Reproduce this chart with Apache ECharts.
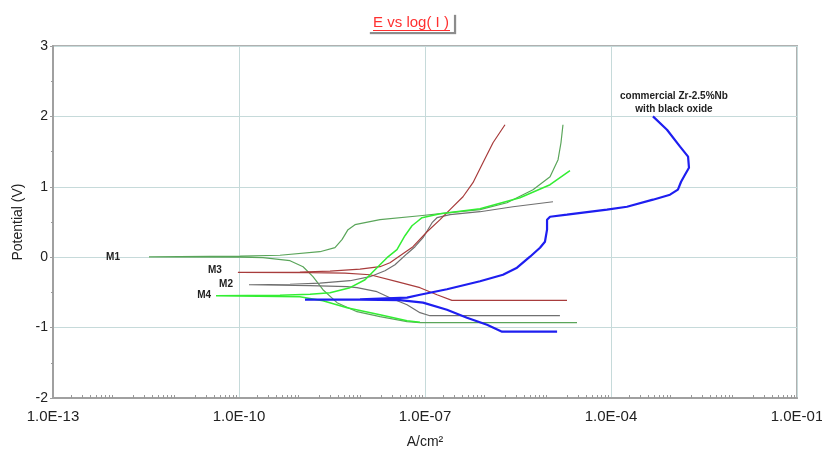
<!DOCTYPE html>
<html><head><meta charset="utf-8">
<script src="https://cdn.jsdelivr.net/npm/echarts@6/dist/echarts.min.js"></script>
<style>html,body{margin:0;padding:0;background:#fff}#c{width:822px;height:449px}</style>
</head><body><div id="c"></div>
<script>
// [current density A/cm2, potential V]
const m1Points = [
  [2.83e-5,-0.93],[8.3e-8,-0.93],[5.13e-8,-0.916],[1.88e-8,-0.845],[8.0e-9,-0.774],[3.81e-9,-0.646],
  [2.26e-9,-0.462],[1.56e-9,-0.277],[1.08e-9,-0.135],[6.65e-10,-0.05],[2.44e-10,-0.007],[1.04e-10,0],
  [3.53e-12,0.005],
  [1.04e-10,0.014],[4.58e-10,0.028],[2.02e-9,0.078],[3.53e-9,0.135],[4.58e-9,0.249],[5.73e-9,0.391],
  [7.43e-9,0.462],[1.88e-8,0.533],[8.3e-8,0.589],[2.53e-7,0.632],[7.71e-7,0.675],[2.1e-6,0.774],
  [5.52e-6,0.959],[1.04e-5,1.143],[1.4e-5,1.385],[1.56e-5,1.626],[1.68e-5,1.882]
];
const m2Points = [
  [1.5e-5,-0.831],[1.2e-7,-0.831],[8.3e-8,-0.788],[5.13e-8,-0.675],[2.72e-8,-0.575],[1.68e-8,-0.49],
  [8.0e-9,-0.433],[5.52e-9,-0.419],[1.4e-9,-0.405],
  [1.45e-10,-0.391],
  [6.65e-10,-0.384],[2.02e-9,-0.369],[6.17e-9,-0.334],[1.3e-8,-0.277],[2.26e-8,-0.192],[3.28e-8,-0.107],
  [5.13e-8,0.05],[6.9e-8,0.149],[9.3e-8,0.277],[1.3e-7,0.49],[1.56e-7,0.561],[2.53e-7,0.604],
  [7.71e-7,0.646],[2.62e-6,0.717],[1.16e-5,0.788]
];
const m3Points = [
  [1.95e-5,-0.614],[2.72e-7,-0.614],[1.56e-7,-0.533],[8.3e-8,-0.433],[3.53e-8,-0.348],[1.3e-8,-0.249],
  [5.13e-9,-0.227],[1.4e-9,-0.22],
  [9.6e-11,-0.216],
  [9.6e-10,-0.21],[2.94e-9,-0.199],[8.95e-9,-0.17],[1.88e-8,-0.135],[2.72e-8,-0.078],[3.95e-8,0.021],
  [6.4e-8,0.149],[1.08e-7,0.362],[1.75e-7,0.533],[2.53e-7,0.675],[4.1e-7,0.859],[5.94e-7,1.058],
  [8.6e-7,1.342],[1.25e-6,1.626],[1.95e-6,1.882]
];
const m4Points = [
  [8.3e-8,-0.923],[5.13e-8,-0.902],[1.88e-8,-0.817],[5.52e-9,-0.717],[2.26e-9,-0.618],[9.6e-10,-0.561],
  [4.26e-11,-0.547],
  [4.58e-10,-0.54],[1.4e-9,-0.526],[2.94e-9,-0.504],[6.17e-9,-0.433],[1.08e-8,-0.32],[1.68e-8,-0.149],
  [2.44e-8,-0.007],[3.53e-8,0.107],[4.75e-8,0.305],[6.17e-8,0.447],[7.43e-8,0.504],[8.95e-8,0.561],
  [1.75e-7,0.618],[7.71e-7,0.689],[3.4e-6,0.845],[1.04e-5,1.03],[2.18e-5,1.229]
];
const zrNbPoints = [
  [1.35e-5,-1.058],[1.75e-6,-1.058],[1.0e-6,-0.959],[4.75e-7,-0.859],[2.26e-7,-0.746],[9.3e-8,-0.646],
  [3.95e-8,-0.611],[8.95e-9,-0.604],
  [1.16e-9,-0.604],
  [8.95e-9,-0.597],[5.13e-8,-0.575],[8.3e-8,-0.533],[2.26e-7,-0.455],[7.71e-7,-0.341],[1.81e-6,-0.249],
  [3.05e-6,-0.149],[4.94e-6,0.007],[7.16e-6,0.135],[8.6e-6,0.22],[9.3e-6,0.391],[9.3e-6,0.533],
  [1.04e-5,0.575],[1.95e-5,0.604],[3.53e-5,0.632],[8.6e-5,0.675],[1.81e-4,0.717],[4.75e-4,0.817],
  [8.95e-4,0.888],[1.2e-3,0.959],[1.35e-3,1.072],[1.56e-3,1.172],[1.81e-3,1.271],[1.75e-3,1.428],
  [1.3e-3,1.57],[8.0e-4,1.811],[4.75e-4,2.0]
];
const xTickExponents = [-13, -10, -7, -4, -1];
const xTickLabels = ['1.0E-13', '1.0E-10', '1.0E-07', '1.0E-04', '1.0E-01'];
const seriesNames = ['M1', 'M2', 'M3', 'M4', 'commercial Zr-2.5%Nb\nwith black oxide'];

const xMinorTicks = [];
for (let n = -13; n < -1; n++) for (let k = 2; k <= 9; k++) xMinorTicks.push(n + Math.log10(k));

function tipPoint(pts) { // leftmost point (corrosion-potential spike)
  let best = pts[0];
  pts.forEach(p => { if (p[0] < best[0]) best = p; });
  return best;
}
function topPoint(pts) {
  let best = pts[0];
  pts.forEach(p => { if (p[1] > best[1]) best = p; });
  return best;
}
const annoFont = {fontSize: 10, fontWeight: 'bold', color: '#222', fontFamily: 'Liberation Sans, Arial'};
function mk(name, pts, color, width, labelPt, labelOpt) {
  return {
    name: name, type: 'line', xAxisIndex: 0, yAxisIndex: 0,
    data: pts, showSymbol: false, symbol: 'none', smooth: false, animation: false,
    lineStyle: {color: color, width: width},
    markPoint: {
      symbol: 'circle', symbolSize: 0, silent: true, animation: false,
      data: [{coord: labelPt, name: name, label: Object.assign({show: true, formatter: name}, annoFont, labelOpt)}]
    }
  };
}

const chart = echarts.init(document.getElementById('c'), null, {renderer: 'canvas'});
chart.setOption({
  animation: false,
  textStyle: {fontFamily: 'Liberation Sans, Arial'},
  title: {
    text: 'E vs log( I )', left: 'center', top: 13, padding: [2, 5, 2, 5],
    backgroundColor: '#fff', shadowColor: 'rgba(0,0,0,0.45)', shadowOffsetX: 2, shadowOffsetY: 2, shadowBlur: 1,
    textStyle: {color: '#ff3030', fontSize: 15, fontWeight: 'normal', fontFamily: 'Liberation Sans Narrow, Liberation Sans, Arial'}
  },
  graphic: [{type: 'line', z: 200, zlevel: 0, shape: {x1: 373, y1: 30.5, x2: 450, y2: 30.5}, style: {stroke: '#ff3030', lineWidth: 1}}],
  grid: {left: 53, right: 25, top: 46, bottom: 51, show: true, borderColor: '#b0b0b0', borderWidth: 2,
         containLabel: false, outerBoundsMode: 'none'},
  xAxis: [
    {type: 'log', logBase: 10, min: 1e-13, max: 1e-1, show: false, position: 'bottom'},
    {type: 'value', min: -13, max: -1, position: 'bottom',
     name: 'A/cm²', nameLocation: 'middle', nameGap: 37,
     nameTextStyle: {fontSize: 14, color: '#222'},
     axisLine: {show: true, lineStyle: {color: '#a0a0a0', width: 2}},
     axisTick: {show: false, customValues: xTickExponents},
     axisLabel: {customValues: xTickExponents, fontSize: 15, color: '#222', margin: 11,
       formatter: v => { const i = xTickExponents.findIndex(e => Math.abs(e - v) < 1e-6); return i >= 0 ? xTickLabels[i] : ''; }},
     splitLine: {show: true, lineStyle: {color: '#c6dada', width: 1}}},
    {type: 'value', min: -13, max: -1, position: 'bottom',
     axisLine: {show: false}, axisLabel: {show: false}, splitLine: {show: false},
     axisTick: {show: true, inside: true, length: 3, customValues: xMinorTicks, lineStyle: {color: '#999', width: 1}}}
  ],
  yAxis: [{
    type: 'value', min: -2, max: 3, interval: 1,
    name: 'Potential (V)', nameLocation: 'middle', nameGap: 20,
    nameTextStyle: {fontSize: 14, color: '#222'},
    axisLine: {show: true, lineStyle: {color: '#a0a0a0', width: 2}},
    axisTick: {show: true, length: 3, lineStyle: {color: '#a0a0a0'}},
    minorTick: {show: true, splitNumber: 2, length: 2, lineStyle: {color: '#999'}},
    axisLabel: {fontSize: 14, color: '#222', margin: 5},
    splitLine: {show: true, lineStyle: {color: '#c6dada', width: 1}}
  }],
  series: [
    mk(seriesNames[0], m1Points, '#5aa55a', 1.2, tipPoint(m1Points), {position: 'left', distance: 29}),
    mk(seriesNames[1], m2Points, '#707070', 1.2, tipPoint(m2Points), {position: 'left', distance: 16}),
    mk(seriesNames[2], m3Points, '#a83c3c', 1.2, tipPoint(m3Points), {position: 'left', distance: 16, offset: [0, -2]}),
    mk(seriesNames[3], m4Points, '#33ee33', 1.5, tipPoint(m4Points), {position: 'left', distance: 5}),
    mk(seriesNames[4], zrNbPoints, '#1e1ef0', 2.2, topPoint(zrNbPoints), {position: 'top', distance: 1, offset: [21, 0], align: 'center', lineHeight: 13})
  ]
});
</script>
</body></html>
